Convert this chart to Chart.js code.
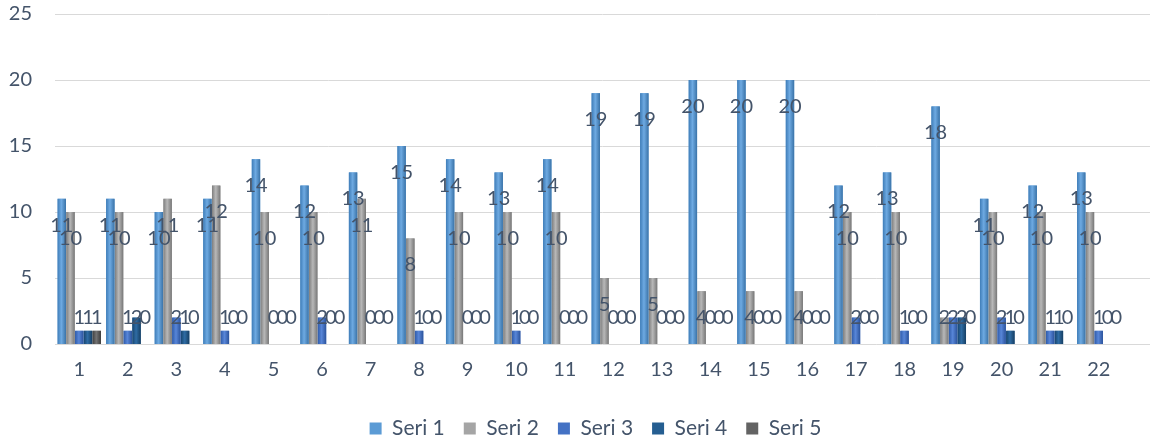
<!DOCTYPE html>
<html>
<head>
<meta charset="utf-8">
<script src="https://cdn.jsdelivr.net/npm/chart.js@4.4.1/dist/chart.umd.min.js"></script>
<style>
  html, body { margin: 0; padding: 0; background: #fff; }
  #wrap { width: 1174px; height: 447px; }
</style>
</head>
<body>
<div id="wrap"><canvas id="myChart"></canvas></div>
<script>
const categories = ['1','2','3','4','5','6','7','8','9','10','11','12','13','14','15','16','17','18','19','20','21','22'];
const seri1 = [11, 11, 10, 11, 14, 12, 13, 15, 14, 13, 14, 19, 19, 20, 20, 20, 12, 13, 18, 11, 12, 13];
const seri2 = [10, 10, 11, 12, 10, 10, 11, 8, 10, 10, 10, 5, 5, 4, 4, 4, 10, 10, 2, 10, 10, 10];
const seri3 = [1, 1, 2, 1, 0, 2, 0, 1, 0, 1, 0, 0, 0, 0, 0, 0, 2, 1, 2, 2, 1, 1];
const seri4 = [1, 2, 1, 0, 0, 0, 0, 0, 0, 0, 0, 0, 0, 0, 0, 0, 0, 0, 2, 1, 1, 0];
const seri5 = [1, 0, 0, 0, 0, 0, 0, 0, 0, 0, 0, 0, 0, 0, 0, 0, 0, 0, 0, 0, 0, 0];
const seriesNames = ['Seri 1', 'Seri 2', 'Seri 3', 'Seri 4', 'Seri 5'];
const yTicks = [0, 5, 10, 15, 20, 25];

const baseColors = ['#5B9BD5', '#A5A5A5', '#4472C4', '#255E91', '#636363'];
// edge / highlight / edge, like the office gradient fill
const gradStops = [
  ['#3F7DB8', '#6EAAE2', '#3A73A8'],
  ['#7E7E7E', '#B8B8B8', '#777777'],
  ['#2F5CAB', '#5886D8', '#2B539C'],
  ['#184670', '#2F6CA4', '#163F64'],
  ['#404040', '#737373', '#3C3C3C']
];
const textColor = '#44546A';
const fontFamily = 'Lato, "Open Sans", sans-serif';

// gridlines, gradient bars + excel-ish data labels
const barDecor = {
  id: 'barDecor',
  afterLayout(chart) {
    // legend sits a little right of centre in the original
    chart.legend.left += 30;
    chart.legend.right += 30;
  },
  beforeDatasetsDraw(chart) {
    // gridlines run a bit further right than the plot in the original
    const {ctx, chartArea, scales} = chart;
    ctx.save();
    ctx.strokeStyle = '#D9D9D9';
    ctx.lineWidth = 1;
    yTicks.forEach(t => {
      const y = Math.round(scales.y.getPixelForValue(t)) + 0.5;
      ctx.beginPath();
      ctx.moveTo(chartArea.left, y);
      ctx.lineTo(chartArea.right + 27, y);
      ctx.stroke();
    });
    ctx.restore();
  },
  afterDatasetsDraw(chart) {
    const {ctx, scales} = chart;
    ctx.save();
    chart.data.datasets.forEach((ds, di) => {
      const meta = chart.getDatasetMeta(di);
      meta.data.forEach(bar => {
        const {x, y, base, width} = bar.getProps(['x', 'y', 'base', 'width'], true);
        if (base - y < 0.5) return;
        const l = x - width / 2;
        const g = ctx.createLinearGradient(l, 0, l + width, 0);
        g.addColorStop(0, gradStops[di][0]);
        g.addColorStop(0.45, gradStops[di][1]);
        g.addColorStop(1, gradStops[di][2]);
        ctx.fillStyle = g;
        ctx.fillRect(l, y, width, base - y);
      });
    });
    ctx.font = '20px ' + fontFamily;
    ctx.fillStyle = textColor;
    ctx.textAlign = 'center';
    ctx.textBaseline = 'middle';
    chart.data.datasets.forEach((ds, di) => {
      const meta = chart.getDatasetMeta(di);
      meta.data.forEach((bar, i) => {
        const v = ds.data[i];
        const ly = scales.y.getPixelForValue(Math.max(v - 2, 2));
        ctx.fillText(String(v), bar.x, ly);
      });
    });
    ctx.restore();
  }
};

const allSeries = [seri1, seri2, seri3, seri4, seri5];
const data = {
  labels: categories,
  datasets: allSeries.map((s, i) => ({
    label: seriesNames[i],
    data: s,
    backgroundColor: baseColors[i],
    borderWidth: 0,
    barPercentage: 0.96,
    categoryPercentage: 0.9
  }))
};

const config = {
  type: 'bar',
  data: data,
  options: {
    responsive: true,
    maintainAspectRatio: false,
    animation: false,
    layout: {
      padding: { left: 8, right: 51, top: 14, bottom: -2 }
    },
    scales: {
      x: {
        grid: { display: false, drawTicks: false },
        border: { display: false },
        ticks: {
          color: textColor,
          font: { family: fontFamily, size: 20 },
          padding: 14
        },
        afterFit(scale) { scale.height = 55; }
      },
      y: {
        min: 0,
        max: 25,
        afterBuildTicks(scale) { scale.ticks = yTicks.map(v => ({ value: v })); },
        grid: { display: false, drawTicks: false },
        border: { display: false },
        ticks: {
          color: textColor,
          font: { family: fontFamily, size: 20 },
          padding: 23
        },
        afterFit(scale) {
          scale.width = 47;
          scale.paddingTop = 0;
          scale.paddingBottom = 0;
        }
      }
    },
    plugins: {
      legend: {
        display: true,
        position: 'bottom',
        labels: {
          color: textColor,
          font: { family: fontFamily, size: 21 },
          boxWidth: 12,
          boxHeight: 12,
          padding: 19
        }
      },
      tooltip: { enabled: false }
    }
  },
  plugins: [barDecor]
};

const myChart = new Chart(document.getElementById('myChart'), config);
</script>
</body>
</html>
